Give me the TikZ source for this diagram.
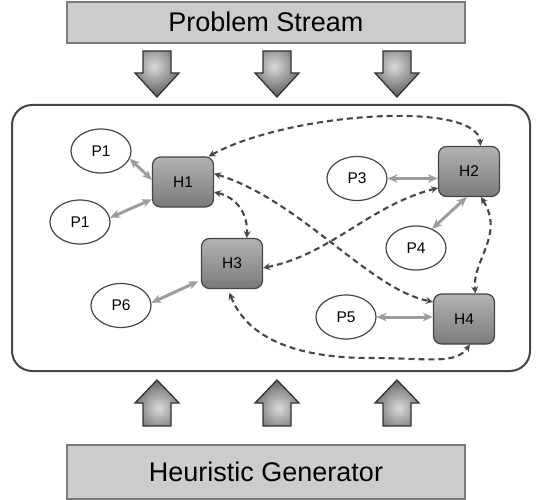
\documentclass[tikz,border=0pt]{standalone}
\usepackage{fontspec}
\setmainfont{Liberation Sans}
\usetikzlibrary{arrows.meta,shapes.geometric,calc}
\definecolor{boxfill}{HTML}{CCCCCC}
\definecolor{boxline}{HTML}{7C7C7C}
\definecolor{frameline}{HTML}{454545}
\definecolor{htop}{HTML}{B2B2B2}
\definecolor{hbot}{HTML}{7A7A7A}
\definecolor{hline}{HTML}{454545}
\definecolor{linkgray}{HTML}{9C9C9C}
\definecolor{dashgray}{HTML}{474747}
\definecolor{arrin}{HTML}{DADADA}
\definecolor{arrout}{HTML}{4E4E4E}
\definecolor{arrline}{HTML}{333333}
\tikzset{
  titlebox/.style={draw=boxline,fill=boxfill,line width=2.5pt},
  titletext/.style={font=\fontsize{27}{32}\selectfont,inner sep=0pt},
  hbox/.style={rectangle,rounded corners=8pt,minimum width=61pt,minimum height=50pt,
    draw=hline,line width=1.2pt,top color=htop,bottom color=hbot,
    font=\fontsize{15.5}{18}\selectfont,inner sep=0pt},
  pell/.style={ellipse,minimum width=60pt,minimum height=44pt,draw=frameline,
    line width=1.2pt,fill=white,font=\fontsize{15.5}{18}\selectfont,inner sep=0pt},
  link/.style={draw=linkgray,line width=3pt,
    {Stealth[length=10pt,width=8.5pt]}-{Stealth[length=10pt,width=8.5pt]}},
  dlink/.style={draw=dashgray,line width=2.1pt,dash pattern=on 6pt off 4pt,
    {Stealth[length=7pt,width=7pt,inset=2.5pt]}-{Stealth[length=7pt,width=7pt,inset=2.5pt]}},
  arrowline/.style={draw=arrline,line width=1.3pt},
}
\newcommand{\dnarrowpath}[1]{(#1-14,51) -- (#1+14,51) -- (#1+14,73) -- (#1+22,73) -- (#1,97)
     -- (#1-22,73) -- (#1-14,73) -- cycle}
\newcommand{\uparrowpath}[1]{(#1,380) -- (#1+22,403) -- (#1+14,403) -- (#1+14,426)
     -- (#1-14,426) -- (#1-14,403) -- (#1-22,403) -- cycle}
\begin{document}
\begin{tikzpicture}[x=1pt,y=-1pt]
\useasboundingbox (0,0) rectangle (541,500);
% title boxes
\draw[titlebox] (67,2) rectangle (465,43);
\node[titletext] (ps) at (266,22) {Problem Stream};
\draw[titlebox] (67,445) rectangle (465,499);
\node[titletext] (hg) at (266,472) {Heuristic Generator};
% big 3D arrows
\foreach \c in {157,277,397}{
  \begin{scope}
    \clip \dnarrowpath{\c};
    \shade[inner color=arrin,outer color=arrout] (\c-3,66) circle (34pt);
  \end{scope}
  \draw[arrowline] \dnarrowpath{\c};
  \begin{scope}
    \clip \uparrowpath{\c};
    \shade[inner color=arrin,outer color=arrout] (\c+2,408) circle (34pt);
  \end{scope}
  \draw[arrowline] \uparrowpath{\c};
}
% container
\draw[draw=frameline,line width=2pt,rounded corners=20pt] (12,105) rectangle (530,371);
% heuristic nodes
\node[hbox] (H1) at (183,182) {H1};
\node[hbox] (H2) at (469,171.5) {H2};
\node[hbox] (H3) at (232,263.5) {H3};
\node[hbox] (H4) at (464,319) {H4};
% problem nodes
\node[pell] (P1a) at (101,151) {P1};
\node[pell] (P1b) at (80,222) {P1};
\node[pell] (P3) at (357,178.5) {P3};
\node[pell] (P4) at (416,248) {P4};
\node[pell] (P6) at (121,305.5) {P6};
\node[pell] (P5) at (346,317) {P5};
% solid links
\draw[link] (P1a.-15) -- (H1.176);
\draw[link] (P1b.8) -- (H1.209);
\draw[link] (P3.east) -- (P3.east -| H2.west);
\draw[link] (P4.50) -- (H2.-95);
\draw[link,shorten >=3pt] (P6.5) -- (H3.208);
\draw[link] (P5.east) -- (P5.east -| H4.west);
% dashed links
\draw[dlink] (H1.45) .. controls (290,112) and (478,100) .. (H2.66);
\draw[dlink] (H1.15) .. controls (300,200) and (370,290) .. (H4.151);
\draw[dlink] (H1.-18) .. controls (238,198) and (248,215) .. (H3.60);
\draw[dlink] (H3.-8) .. controls (330,255) and (370,205) .. (H2.208);
\draw[dlink] (H2.-65) .. controls (505,235) and (472,260) .. (H4.66);
\draw[dlink,shorten <=4pt] (H3.-99) .. controls (250,345) and (310,358) .. (370,358)
   .. controls (430,358) and (455,365) .. (H4.-77);
\end{tikzpicture}
\end{document}
